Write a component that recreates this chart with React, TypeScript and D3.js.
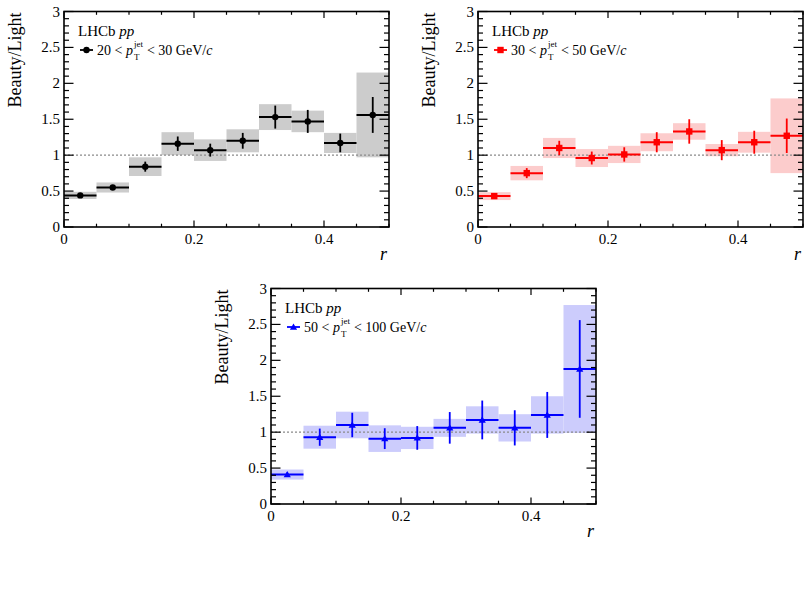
import React from "react";
import * as d3 from "d3";

const binLo = [0, 0.05, 0.1, 0.15, 0.2, 0.25, 0.3, 0.35, 0.4, 0.45];
const binHi = [0.05, 0.1, 0.15, 0.2, 0.25, 0.3, 0.35, 0.4, 0.45, 0.5];

const val1 = [0.44, 0.55, 0.84, 1.16, 1.07, 1.2, 1.53, 1.47, 1.17, 1.56];
const stat1 = [0.03, 0.03, 0.07, 0.1, 0.09, 0.11, 0.16, 0.16, 0.13, 0.25];
const sys1 = [0.05, 0.07, 0.13, 0.16, 0.15, 0.16, 0.18, 0.15, 0.14, 0.59];

const val2 = [0.43, 0.75, 1.1, 0.96, 1.01, 1.18, 1.33, 1.07, 1.18, 1.27];
const stat2 = [0.03, 0.07, 0.1, 0.09, 0.1, 0.14, 0.17, 0.14, 0.16, 0.24];
const sys2 = [0.055, 0.1, 0.14, 0.125, 0.12, 0.125, 0.115, 0.085, 0.145, 0.52];

const val3 = [0.41, 0.93, 1.1, 0.91, 0.92, 1.06, 1.17, 1.06, 1.24, 1.88];
const stat3 = [0.03, 0.12, 0.17, 0.145, 0.165, 0.22, 0.27, 0.245, 0.32, 0.68];
const sys3 = [0.07, 0.16, 0.185, 0.185, 0.155, 0.125, 0.19, 0.19, 0.26, 0.89];

const yTicks = [0, 0.5, 1, 1.5, 2, 2.5, 3];
const yTickLabels = ["0", "0.5", "1", "1.5", "2", "2.5", "3"];
const xTicks = [0, 0.2, 0.4];
const xTickLabels = ["0", "0.2", "0.4"];
const ptLow = ["20", "30", "50"];
const ptHigh = ["30", "50", "100"];

const FONT = "Liberation Serif, DejaVu Serif, serif";
const W = 325;
const H = 215.5;

type PanelProps = {
  left: number;
  top: number;
  vals: number[];
  stats: number[];
  syss: number[];
  color: string;
  fill: string;
  marker: "circle" | "square" | "triangle";
  idx: number;
};

function Marker({ cx, cy, type, color }: { cx: number; cy: number; type: string; color: string }) {
  if (type === "circle") return <circle cx={cx} cy={cy} r={3.2} fill={color} />;
  if (type === "square") return <rect x={cx - 3.2} y={cy - 3.2} width={6.4} height={6.4} fill={color} />;
  const s = 3.6;
  return (
    <path
      d={`M${cx},${cy - s} L${cx + s},${cy + s * 0.75} L${cx - s},${cy + s * 0.75} Z`}
      fill={color}
    />
  );
}

function Panel({ left, top, vals, stats, syss, color, fill, marker, idx }: PanelProps) {
  const x = d3.scaleLinear().domain([0, 0.5]).range([left, left + W]);
  const y = d3.scaleLinear().domain([0, 3]).range([top + H, top]);
  const yMinor = d3.range(0, 3.0001, 0.1);
  const xMinor = d3.range(0, 0.5001, 0.05);
  const bottom = top + H;
  const right = left + W;
  return (
    <g>
      {vals.map((v, i) => (
        <rect
          key={"s" + i}
          x={x(binLo[i])}
          width={x(binHi[i]) - x(binLo[i])}
          y={y(Math.min(3, v + syss[i]))}
          height={y(Math.max(0, v - syss[i])) - y(Math.min(3, v + syss[i]))}
          fill={fill}
        />
      ))}
      <line
        x1={x(0)}
        x2={x(0.5)}
        y1={y(1)}
        y2={y(1)}
        stroke="#8a8a8a"
        strokeWidth={1.2}
        strokeDasharray="2,2"
      />
      {vals.map((v, i) => (
        <g key={"e" + i}>
          <line x1={x(binLo[i])} x2={x(binHi[i])} y1={y(v)} y2={y(v)} stroke={color} strokeWidth={2} />
          <line
            x1={x((binLo[i] + binHi[i]) / 2)}
            x2={x((binLo[i] + binHi[i]) / 2)}
            y1={y(v - stats[i])}
            y2={y(v + stats[i])}
            stroke={color}
            strokeWidth={1.8}
          />
          <Marker cx={x((binLo[i] + binHi[i]) / 2)} cy={y(v)} type={marker} color={color} />
        </g>
      ))}
      <rect x={left} y={top} width={W} height={H} fill="none" stroke="#000" strokeWidth={1.6} />
      {yMinor.map((t, i) => {
        const major = Math.abs(t * 2 - Math.round(t * 2)) < 1e-6;
        const len = major ? 9.5 : 5;
        return (
          <g key={"yt" + i}>
            <line x1={left} x2={left + len} y1={y(t)} y2={y(t)} stroke="#000" strokeWidth={1.2} />
            <line x1={right} x2={right - len} y1={y(t)} y2={y(t)} stroke="#000" strokeWidth={1.2} />
          </g>
        );
      })}
      {xMinor.map((t, i) => {
        const major = Math.abs(t * 5 - Math.round(t * 5)) < 1e-6;
        const len = major ? 6.5 : 3.3;
        return (
          <g key={"xt" + i}>
            <line x1={x(t)} x2={x(t)} y1={bottom} y2={bottom - len} stroke="#000" strokeWidth={1.2} />
            <line x1={x(t)} x2={x(t)} y1={top} y2={top + len} stroke="#000" strokeWidth={1.2} />
          </g>
        );
      })}
      {yTicks.map((t, i) => (
        <text
          key={"yl" + i}
          x={left - 4}
          y={y(t) + 5}
          textAnchor="end"
          style={{ fontFamily: FONT, fontSize: 15 }}
        >
          {yTickLabels[i]}
        </text>
      ))}
      {xTicks.map((t, i) => (
        <text
          key={"xl" + i}
          x={x(t)}
          y={bottom + 16.5}
          textAnchor="middle"
          style={{ fontFamily: FONT, fontSize: 15 }}
        >
          {xTickLabels[i]}
        </text>
      ))}
      <text
        transform={`translate(${left - 43},${top + 1}) rotate(-90)`}
        textAnchor="end"
        style={{ fontFamily: FONT, fontSize: 18 }}
      >
        Beauty/Light
      </text>
      <text x={right - 2} y={bottom + 33} textAnchor="end" style={{ fontFamily: FONT, fontSize: 18, fontStyle: "italic" }}>
        r
      </text>
      <text x={left + 14} y={top + 24} style={{ fontFamily: FONT, fontSize: 15 }}>
        LHCb <tspan fontStyle="italic">pp</tspan>
      </text>
      <line x1={left + 16} x2={left + 29} y1={top + 38.5} y2={top + 38.5} stroke={color} strokeWidth={1.8} />
      <Marker cx={left + 22.5} cy={top + 38.5} type={marker} color={color} />
      <text x={left + 33} y={top + 43} style={{ fontFamily: FONT, fontSize: 14 }}>
        {ptLow[idx]} {"<"} <tspan fontStyle="italic">p</tspan>
        <tspan fontSize={9} dx={1} dy={-7.5}>jet</tspan>
        <tspan fontSize={9} dx={-9} dy={13}>T</tspan>
        <tspan dx={4} dy={-5.5}>{" < " + ptHigh[idx] + " GeV/"}</tspan>
        <tspan fontStyle="italic">c</tspan>
      </text>
    </g>
  );
}

export default function App() {
  return (
    <svg
      width={810}
      height={599}
      style={{ position: "absolute", left: 0, top: 0, background: "#fff" }}
    >
      <rect x={0} y={0} width={810} height={599} fill="#fff" />
      <Panel left={64} top={11.5} vals={val1} stats={stat1} syss={sys1} color="#000" fill="rgb(204,204,204)" marker="circle" idx={0} />
      <Panel left={478} top={11.5} vals={val2} stats={stat2} syss={sys2} color="#ff0000" fill="rgb(252,204,204)" marker="square" idx={1} />
      <Panel left={271} top={288.5} vals={val3} stats={stat3} syss={sys3} color="#0000ff" fill="rgb(204,204,252)" marker="triangle" idx={2} />
    </svg>
  );
}
